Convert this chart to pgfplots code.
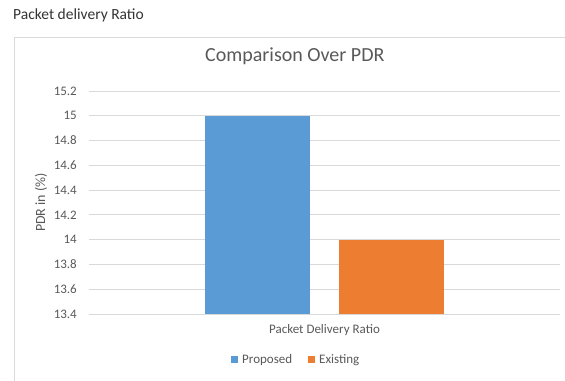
\documentclass[border=0pt]{standalone}
\usepackage{fontspec}
\setmainfont{Carlito}
\usepackage{pgfplots}
\pgfplotsset{compat=1.18}
\definecolor{cblue}{HTML}{5B9BD5}
\definecolor{corange}{HTML}{ED7D31}
\definecolor{gridc}{HTML}{D9D9D9}
\definecolor{txt}{HTML}{595959}
\begin{document}
\begin{tikzpicture}
\path[use as bounding box] (-89bp,-67bp) rectangle (476bp,314bp);
\draw[gridc, line width=0.8bp] (-75bp,-75bp) -- (-75bp,277bp) -- (485bp,277bp);
\node[anchor=west, text=black!80, font=\fontsize{15.5bp}{18bp}\selectfont, inner sep=0pt] at (-76bp,299bp) {Packet delivery Ratio};
\begin{axis}[
  at={(0,0)}, anchor=south west,
  scale only axis, width=471bp, height=223bp,
  ybar=29bp, bar width=105bp,
  xmin=-0.5, xmax=0.5,
  ymin=13.4, ymax=15.2,
  ytick={13.4,13.6,...,15.2},
  xtick={0}, xticklabels={Packet Delivery Ratio},
  axis line style={draw=none},
  major tick length=0pt,
  ymajorgrids, grid style={gridc, line width=0.8bp},
  tick label style={text=txt, font=\fontsize{13bp}{15bp}\selectfont},
  /pgf/number format/assume math mode=true,
  yticklabel style={/pgf/number format/fixed, /pgf/number format/precision=1, anchor=east, inner sep=0pt, xshift=-12bp},
  xticklabel style={anchor=center, yshift=-16bp, inner sep=0pt},
  ylabel={PDR in (\%)},
  ylabel style={at={(axis description cs:-0.102,0.5)}, anchor=center, text=txt, font=\fontsize{14bp}{16bp}\selectfont},
  title={Comparison Over PDR},
  title style={at={(axis description cs:0.437,1.13)}, anchor=center, text=txt, font=\fontsize{20bp}{24bp}\selectfont},
  legend style={at={(axis description cs:0.44,-0.206)}, anchor=center, draw=none, legend columns=2, font=\fontsize{13bp}{15bp}\selectfont, text=txt, /tikz/every even column/.append style={column sep=14bp}, inner sep=0pt},
  legend image code/.code={\fill[#1] (0bp,-3.5bp) rectangle (7bp,3.5bp);\path (9bp,0bp);},
]
\addplot[fill=cblue, draw=none] coordinates {(0,15)};
\addplot[fill=corange, draw=none] coordinates {(0,14)};
\legend{Proposed, Existing}
\end{axis}
\end{tikzpicture}
\end{document}
